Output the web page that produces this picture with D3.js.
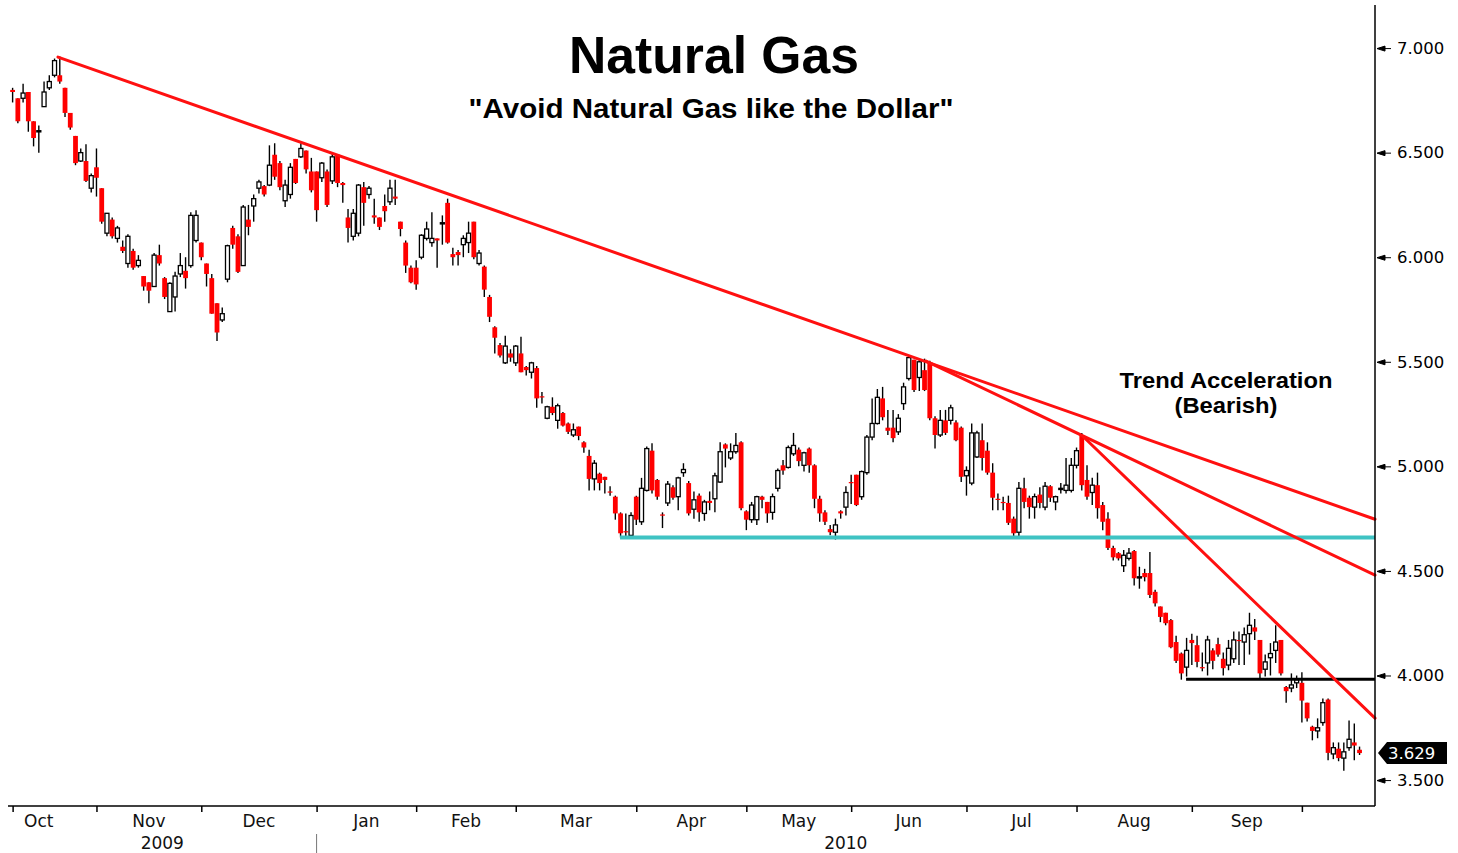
<!DOCTYPE html>
<html><head><meta charset="utf-8">
<script src="https://cdn.jsdelivr.net/npm/d3@7"></script>
<style>body{margin:0;background:#fff}svg{display:block}</style>
</head><body>
<svg id="chart" width="1458" height="853"></svg>
<script>
// ---------- data ----------
const monthLabels = ["Oct","Nov","Dec","Jan","Feb","Mar","Apr","May","Jun","Jul","Aug","Sep",""];
const monthTradingDays = [16,20,22,19,19,23,21,20,22,21,22,21,12];
const firstMonthFullDays = 22;
const yearLabels = ["2009","2010"];
const yearStartMonth = 3; // Jan 2010 is the 4th month shown
const yTicks = [3.5,4.0,4.5,5.0,5.5,6.0,6.5,7.0];
const lastPrice = 3.629;

const opens = [6.80,6.76,6.76,6.79,6.65,6.60,6.72,6.81,6.87,6.87, 6.81,6.69,6.58,6.46,6.46,6.33,6.43,6.33,6.115,6.18,
 6.09,6.05,5.97,6.03,5.96,5.91,5.88,5.86,6.01,5.90, 5.74,5.81,5.92,5.935,5.96,6.08,6.07,5.97,5.90,5.78,
 5.70,5.895,6.14,6.10,5.96,6.18,6.245,6.33,6.34,6.345, 6.49,6.45,6.27,6.30,6.47,6.48,6.51,6.41,6.41,6.38,
 6.41,6.365,6.49,6.355,6.19,6.10,6.115,6.335,6.30,6.20, 6.19,6.245,6.265,6.29,6.17,6.07,5.95,5.95,6.00,6.09,
 6.07,6.09,6.16,6.26,6.015,6.025,6.06,6.07,6.17,5.97, 5.955,5.81,5.665,5.58,5.495,5.54,5.495,5.54,5.475,5.45,
 5.47,5.335,5.23,5.285,5.22,5.255,5.205,5.15,5.19,5.115, 5.05,4.94,4.965,4.95,4.88,4.855,4.775,4.69,4.67,4.855,
 4.735,4.885,5.075,4.935,4.77,4.825,4.90,4.855,4.97,4.92, 4.795,4.86,4.775,4.835,4.845,4.925,5.105,5.04,5.07,5.115,
 4.785,4.745,4.745,4.855,4.83,4.78,4.895,5.005,4.995,5.06, 5.08,5.005,5.085,5.005,4.845,4.78,4.70,4.685,4.785,4.805,
 4.925,4.96,4.855,4.97,5.14,5.205,5.325,5.185,5.185,5.165, 5.30,5.42,5.51,5.425,5.46,5.495,5.23,5.15,5.22,5.22,
 5.21,5.185,4.955,4.92,5.045,5.125,5.075,4.97,4.845,4.83, 4.825,4.75,4.685,4.895,4.85,4.805,4.865,4.805,4.905,4.83,
 4.89,4.885,4.885,5.005,5.15,4.935,4.875,4.91,4.815,4.75, 4.61,4.585,4.525,4.56,4.595,4.47,4.49,4.49,4.40,4.33,
 4.30,4.265,4.16,4.105,4.04,4.17,4.145,4.04,4.06,4.12, 4.15,4.08,4.05,4.08,4.17,4.16,4.20,4.23,4.17,4.03,
 4.085,4.12,4.17,3.945,3.94,3.965,3.965,3.87,3.755,3.735, 3.775,3.885,3.625,3.65,3.605,3.655,3.68,3.645];

const highs = [6.81,6.76,6.83,6.79,6.65,6.63,6.84,6.87,6.95,6.96, 6.81,6.69,6.58,6.52,6.54,6.40,6.52,6.33,6.21,6.19,
 6.15,6.08,6.11,6.04,6.01,5.91,5.88,6.02,6.06,5.905, 5.88,5.93,6.02,6.00,6.215,6.225,6.07,5.97,5.92,5.78,
 5.76,6.06,6.15,6.11,6.25,6.25,6.30,6.37,6.345,6.535, 6.545,6.46,6.37,6.45,6.47,6.545,6.51,6.475,6.41,6.455,
 6.42,6.50,6.49,6.36,6.23,6.23,6.35,6.36,6.34,6.28, 6.19,6.30,6.37,6.37,6.17,6.08,5.96,5.985,6.11,6.17,
 6.215,6.09,6.20,6.28,6.045,6.035,6.105,6.17,6.17,6.035, 5.96,5.82,5.67,5.59,5.625,5.56,5.58,5.62,5.48,5.50,
 5.48,5.355,5.29,5.33,5.30,5.26,5.21,5.205,5.19,5.12, 5.08,5.03,4.97,4.95,4.905,4.86,4.78,4.775,4.78,4.86,
 4.945,5.095,5.11,4.94,4.78,4.93,4.91,4.95,5.015,4.93, 4.88,4.87,4.84,4.88,4.97,5.115,5.11,5.11,5.16,5.12,
 4.79,4.83,4.86,4.86,4.83,4.87,4.99,5.03,5.10,5.16, 5.09,5.07,5.09,5.01,4.86,4.79,4.72,4.75,4.79,4.905,
 4.96,4.96,4.98,5.15,5.325,5.37,5.38,5.27,5.27,5.25, 5.40,5.53,5.51,5.51,5.515,5.505,5.24,5.27,5.27,5.295,
 5.22,5.19,5.00,5.205,5.17,5.205,5.115,5.015,4.87,4.855, 4.86,4.76,4.925,4.945,4.86,4.87,4.90,4.925,4.91,4.86,
 4.92,5.04,5.04,5.09,5.16,5.005,4.945,4.97,4.83,4.78, 4.62,4.59,4.60,4.61,4.60,4.52,4.51,4.59,4.41,4.33,
 4.30,4.27,4.19,4.11,4.18,4.20,4.19,4.11,4.19,4.13, 4.18,4.11,4.17,4.21,4.21,4.23,4.30,4.27,4.17,4.10,
 4.155,4.24,4.17,3.95,4.01,4.00,4.015,3.87,3.76,3.795, 3.89,3.89,3.68,3.68,3.68,3.785,3.77,3.66];

const lows = [6.74,6.64,6.74,6.60,6.53,6.50,6.72,6.80,6.86,6.83, 6.67,6.61,6.44,6.455,6.36,6.31,6.29,6.16,6.10,6.09,
 6.07,6.02,5.95,5.94,5.95,5.84,5.78,5.86,5.96,5.80, 5.74,5.74,5.905,5.85,5.95,6.07,5.985,5.86,5.73,5.60,
 5.69,5.88,6.04,5.925,5.96,6.105,6.17,6.305,6.29,6.34, 6.37,6.32,6.24,6.28,6.35,6.475,6.40,6.31,6.17,6.36,
 6.24,6.35,6.335,6.26,6.07,6.08,6.10,6.15,6.28,6.16, 6.13,6.17,6.25,6.25,6.10,5.925,5.875,5.845,5.99,6.08,
 6.05,5.95,6.06,6.065,5.96,5.96,6.00,6.02,5.99,5.96, 5.81,5.69,5.54,5.52,5.49,5.50,5.48,5.45,5.435,5.42,
 5.28,5.30,5.225,5.245,5.18,5.19,5.155,5.14,5.125,5.065, 4.885,4.885,4.885,4.87,4.86,4.745,4.66,4.66,4.655,4.72,
 4.72,4.88,4.87,4.84,4.705,4.81,4.84,4.79,4.95,4.765, 4.75,4.735,4.74,4.79,4.78,4.92,4.995,5.03,5.06,4.79,
 4.695,4.73,4.72,4.80,4.73,4.745,4.88,4.96,4.99,5.05, 5.00,4.975,4.97,4.80,4.735,4.72,4.67,4.65,4.75,4.765,
 4.82,4.81,4.84,4.96,5.125,5.20,5.22,5.15,5.115,5.15, 5.27,5.41,5.355,5.36,5.36,5.22,5.085,5.14,5.15,5.20,
 5.12,4.925,4.86,4.91,5.04,4.98,4.96,4.79,4.79,4.79, 4.72,4.665,4.665,4.80,4.75,4.75,4.80,4.79,4.83,4.79,
 4.87,4.87,4.875,4.99,4.885,4.84,4.815,4.75,4.695,4.60, 4.55,4.55,4.495,4.55,4.43,4.415,4.45,4.37,4.33,4.255,
 4.24,4.13,4.06,3.98,3.995,4.05,4.04,4.02,4.00,4.03, 4.09,4.00,4.025,4.06,4.05,4.05,4.10,4.17,3.98,3.995,
 4.00,4.06,4.00,3.87,3.92,3.94,3.775,3.78,3.69,3.70, 3.76,3.595,3.60,3.59,3.545,3.64,3.595,3.62];

const closes = [6.79,6.65,6.785,6.65,6.57,6.605,6.79,6.84,6.94,6.84, 6.69,6.62,6.45,6.50,6.365,6.39,6.38,6.17,6.21,6.10,
 6.14,6.03,6.10,5.95,5.985,5.86,5.84,6.01,5.97,5.81, 5.875,5.91,5.96,5.90,6.20,6.20,6.00,5.92,5.73,5.64,
 5.73,6.055,6.06,5.93,6.24,6.145,6.28,6.36,6.30,6.44, 6.385,6.335,6.345,6.43,6.355,6.52,6.42,6.32,6.225,6.45,
 6.25,6.48,6.355,6.345,6.14,6.21,6.345,6.26,6.33,6.19, 6.145,6.22,6.33,6.28,6.135,5.96,5.88,5.87,6.105,6.135,
 6.09,6.08,6.165,6.07,6.00,6.01,6.09,6.115,6.00,6.02, 5.845,5.715,5.615,5.53,5.575,5.52,5.575,5.45,5.46,5.495,
 5.325,5.33,5.285,5.255,5.29,5.195,5.165,5.175,5.145,5.09, 4.94,5.015,4.92,4.935,4.875,4.775,4.68,4.685,4.765,4.745,
 4.895,5.085,4.885,4.855,4.765,4.915,4.85,4.945,4.985,4.775, 4.84,4.78,4.83,4.825,4.955,5.07,5.085,5.07,5.10,4.80,
 4.745,4.815,4.855,4.84,4.775,4.855,4.98,4.98,5.09,5.10, 5.025,5.065,5.005,4.845,4.775,4.735,4.685,4.72,4.775,4.875,
 4.92,4.815,4.975,5.14,5.205,5.33,5.235,5.17,5.135,5.23, 5.38,5.52,5.365,5.50,5.365,5.23,5.15,5.22,5.16,5.28,
 5.125,4.95,4.98,5.16,5.16,5.04,4.97,4.85,4.843,4.825, 4.73,4.68,4.895,4.83,4.805,4.855,4.825,4.905,4.85,4.855,
 4.895,4.91,5.005,5.075,4.91,4.855,4.91,4.80,4.735,4.61, 4.565,4.56,4.575,4.585,4.465,4.472,4.47,4.385,4.345,4.28,
 4.25,4.135,4.07,4.01,4.12,4.155,4.065,4.035,4.17,4.07, 4.10,4.035,4.13,4.17,4.165,4.195,4.24,4.21,4.01,4.065,
 4.105,4.16,4.01,3.925,3.955,3.98,3.88,3.795,3.735,3.75, 3.87,3.63,3.655,3.605,3.635,3.695,3.665,3.629];

// trend lines in data space: [startIndex, startPrice, endIndex, endPrice]
const redTrendLines = [
  [8.66, 6.957, 259.95, 4.747],
  [174.3, 5.503, 259.95, 4.480],
  [204.2, 5.144, 259.95, 3.796]
];
const supportCyan = [115.9, 4.66, 259.95];
const supportBlack = [223.9, 3.982, 259.95];

// ---------- layout ----------
const svg = d3.select("#chart");
const L = 8, R = 1375, T = 5, B = 806;
const x = d3.scaleLinear().domain([-0.88, 259.95]).range([L, R]);
const y = d3.scaleLinear().domain([3.376, 7.206]).range([B, T]);

const candles = opens.map((o, i) => ({i, o, h: highs[i], l: lows[i], c: closes[i]}));

// month starts
const monthStarts = [];
let acc = 0;
monthTradingDays.forEach(n => { monthStarts.push(acc); acc += n; });

// candles
const cg = svg.append("g");
cg.selectAll("line").data(candles).join("line")
  .attr("x1", d => x(d.i)).attr("x2", d => x(d.i))
  .attr("y1", d => y(d.h)).attr("y2", d => y(d.l))
  .attr("stroke", "#000").attr("stroke-width", 1.4);
cg.selectAll("rect").data(candles).join("rect")
  .attr("x", d => x(d.i) - (d.c >= d.o ? 2 : 2.4))
  .attr("width", d => d.c >= d.o ? 4 : 4.8)
  .attr("y", d => y(Math.max(d.o, d.c)))
  .attr("height", d => Math.max(1.2, Math.abs(y(d.o) - y(d.c))))
  .attr("fill", d => d.c >= d.o ? "#fff" : "#ff0000")
  .attr("stroke", d => d.c >= d.o ? "#000" : "none")
  .attr("stroke-width", 1.3);

// support lines
svg.append("line")
  .attr("x1", x(supportCyan[0])).attr("x2", x(supportCyan[2]))
  .attr("y1", y(supportCyan[1])).attr("y2", y(supportCyan[1]))
  .attr("stroke", "#3fc3c3").attr("stroke-width", 4);
svg.append("line")
  .attr("x1", x(supportBlack[0])).attr("x2", x(supportBlack[2]))
  .attr("y1", y(supportBlack[1])).attr("y2", y(supportBlack[1]))
  .attr("stroke", "#000").attr("stroke-width", 3);

// trend lines
svg.append("g").selectAll("line").data(redTrendLines).join("line")
  .attr("x1", d => x(d[0])).attr("y1", d => y(d[1]))
  .attr("x2", d => x(d[2])).attr("y2", d => y(d[3]))
  .attr("stroke", "#ff1010").attr("stroke-width", 3).attr("stroke-linecap", "round");

// axes frame
svg.append("line").attr("x1", L).attr("x2", R).attr("y1", B).attr("y2", B)
  .attr("stroke", "#000").attr("stroke-width", 1.5);
svg.append("line").attr("x1", R).attr("x2", R).attr("y1", T).attr("y2", B)
  .attr("stroke", "#000").attr("stroke-width", 1.5);

// y axis (right)
const ya = svg.append("g").attr("transform", `translate(${R},0)`)
  .call(d3.axisRight(y).tickValues(yTicks).tickFormat(d3.format(".3f")).tickSize(0).tickPadding(22));
ya.select(".domain").remove();
ya.selectAll("text").attr("font-family", "DejaVu Sans, sans-serif").attr("font-size", 16.5).attr("fill", "#000");
ya.selectAll(".tick").append("path")
  .attr("d", "M2,0 L10,-2.5 L10,2.5 Z M10,0 L16,0")
  .attr("fill", "#000").attr("stroke", "#000").attr("stroke-width", 1);

// last price marker
const yp = y(lastPrice);
svg.append("path")
  .attr("d", `M${R + 3},${yp} L${R + 12},${yp - 11} L${R + 72},${yp - 11} L${R + 72},${yp + 11} L${R + 12},${yp + 11} Z`)
  .attr("fill", "#000");
svg.append("text").attr("x", R + 13).attr("y", yp + 6)
  .attr("font-family", "DejaVu Sans, sans-serif").attr("font-size", 16.5).attr("fill", "#fff")
  .text(d3.format(".3f")(lastPrice));

// x axis ticks
const xa = svg.append("g").attr("transform", `translate(0,${B})`)
  .call(d3.axisBottom(x).tickValues(monthStarts).tickSize(6).tickFormat(""));
xa.select(".domain").remove();
xa.selectAll("line").attr("stroke", "#000").attr("stroke-width", 1.5);

// month labels (centered between month ticks)
const labelData = monthLabels.map((m, k) => {
  const s = k === 0 ? monthStarts[0] + monthTradingDays[0] - firstMonthFullDays : monthStarts[k];
  const e = k + 1 < monthStarts.length ? monthStarts[k + 1] : monthStarts[k] + monthTradingDays[k];
  return {m, c: (s + e) / 2};
}).filter(d => d.m);
svg.append("g").selectAll("text").data(labelData).join("text")
  .attr("x", d => x(d.c)).attr("y", 827).attr("text-anchor", "middle")
  .attr("font-family", "DejaVu Sans, sans-serif").attr("font-size", 17).attr("fill", "#111")
  .text(d => d.m);

// year labels
const yearBoundary = x(monthStarts[yearStartMonth]);
svg.append("text").attr("x", (L + yearBoundary) / 2).attr("y", 849).attr("text-anchor", "middle")
  .attr("font-family", "DejaVu Sans, sans-serif").attr("font-size", 17).attr("fill", "#111").text(yearLabels[0]);
svg.append("text").attr("x", (yearBoundary + R) / 2).attr("y", 849).attr("text-anchor", "middle")
  .attr("font-family", "DejaVu Sans, sans-serif").attr("font-size", 17).attr("fill", "#111").text(yearLabels[1]);
svg.append("line").attr("x1", yearBoundary).attr("x2", yearBoundary).attr("y1", 834).attr("y2", 853)
  .attr("stroke", "#777").attr("stroke-width", 1);

// titles
svg.append("text").attr("x", 714).attr("y", 73).attr("text-anchor", "middle")
  .attr("font-family", "Liberation Sans, Arial, sans-serif").attr("font-weight", "bold").attr("font-size", 52)
  .attr("textLength", 290).attr("lengthAdjust", "spacingAndGlyphs").text("Natural Gas");
svg.append("text").attr("x", 711).attr("y", 118).attr("text-anchor", "middle")
  .attr("font-family", "Liberation Sans, Arial, sans-serif").attr("font-weight", "bold").attr("font-size", 28)
  .attr("textLength", 485).attr("lengthAdjust", "spacingAndGlyphs").text("\"Avoid Natural Gas like the Dollar\"");
svg.append("text").attr("x", 1226).attr("y", 388).attr("text-anchor", "middle")
  .attr("font-family", "Liberation Sans, Arial, sans-serif").attr("font-weight", "bold").attr("font-size", 22)
  .attr("textLength", 213).attr("lengthAdjust", "spacingAndGlyphs").text("Trend Acceleration");
svg.append("text").attr("x", 1226).attr("y", 413).attr("text-anchor", "middle")
  .attr("font-family", "Liberation Sans, Arial, sans-serif").attr("font-weight", "bold").attr("font-size", 22)
  .attr("textLength", 103).attr("lengthAdjust", "spacingAndGlyphs").text("(Bearish)");
</script>
</body></html>
